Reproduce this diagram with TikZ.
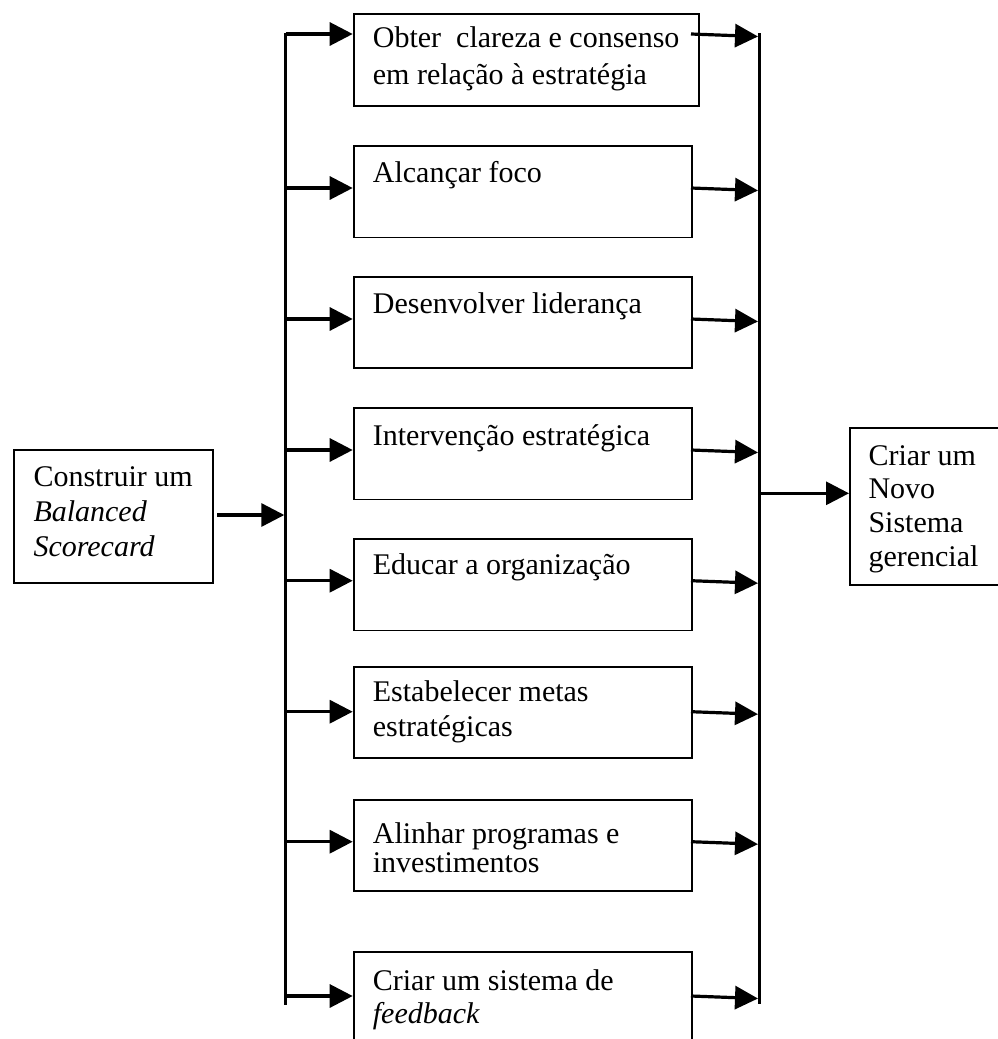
\documentclass[tikz,border=0pt]{standalone}
\usepackage{fontspec}
\setmainfont{Liberation Serif}
\usetikzlibrary{arrows.meta}

\begin{document}
\begin{tikzpicture}[x=1pt,y=-1pt,
  box/.style={draw,line width=1.8pt,rectangle,inner sep=0pt,anchor=north west},
  stepbox/.style={box,minimum width=338.3pt,minimum height=91.5pt},
  lbl/.style={anchor=base west,inner sep=0pt,font=\fontsize{30}{35}\selectfont},
  wire/.style={line width=3.3pt},
  arr/.style={line width=3.2pt,-{Triangle[length=23pt,width=23pt]}}
]
\useasboundingbox (0,0) rectangle (998,1039);
\clip (0,0) rectangle (998,1039);

% start and result boxes
\node[box,minimum width=199pt,minimum height=133pt] (src) at (13.3,449.3) {};
\node[lbl] (src1) at (33.3,486.7) {Construir um};
\node[lbl] (src2) at (33.3,521.7) {\itshape Balanced};
\node[lbl] (src3) at (33.3,556.3) {\itshape Scorecard};

\node[box,minimum width=170pt,minimum height=157pt] (dst) at (849,427.3) {};
\node[lbl] (dst1) at (868.3,465) {Criar um};
\node[lbl] (dst2) at (868.3,498.3) {Novo};
\node[lbl] (dst3) at (868.3,532.7) {Sistema};
\node[lbl] (dst4) at (868.3,566.7) {gerencial};

% the eight steps
\node[box,minimum width=345.6pt,minimum height=92.3pt] (b1) at (352.7,12.7) {};
\node[lbl] (t1a) at (372.7,47.3) {Obter\ \ clareza e consenso};
\node[lbl] (t1b) at (372.7,84) {em relação à estratégia};

\node[stepbox] (b2) at (352.7,145) {};
\node[lbl] (t2) at (372.7,182.7) {Alcançar foco};

\node[stepbox] (b3) at (352.7,275.7) {};
\node[lbl] (t3) at (372.7,313.3) {Desenvolver liderança};

\node[stepbox] (b4) at (352.7,407) {};
\node[lbl] (t4) at (372.7,445) {Intervenção estratégica};

\node[stepbox] (b5) at (352.7,538) {};
\node[lbl] (t5) at (372.7,574) {Educar a organização};

\node[stepbox] (b6) at (352.7,665.7) {};
\node[lbl] (t6a) at (372.7,701.7) {Estabelecer metas};
\node[lbl] (t6b) at (372.7,736.7) {estratégicas};

\node[stepbox,minimum height=90.7pt] (b7) at (352.7,799.3) {};
\node[lbl] (t7a) at (372.7,843) {Alinhar programas e};
\node[lbl] (t7b) at (372.7,872) {investimentos};

\node[stepbox,minimum height=120pt] (b8) at (352.7,950.7) {};
\node[lbl] (t8a) at (372.7,990.5) {Criar um sistema de};
\node[lbl] (t8b) at (372.7,1023) {\itshape feedback};

% distribution and collection buses
\coordinate (Ltop) at (285.7,33);
\coordinate (Lbot) at (285.7,1005);
\coordinate (Rtop) at (759.5,33);
\coordinate (Rbot) at (759.5,1004);
\draw[wire] (Ltop) -- (Lbot);
\draw[wire] (Rtop) -- (Rbot);

% input and output
\coordinate (inS) at (217.3,515);
\coordinate (inE) at (284.3,515);
\draw[arr] (inS) -- (inE);
\coordinate (outS) at (759.5,493.3);
\draw[arr] (outS) -- (dst.west |- outS);

% step connectors: bus -> box -> bus
\foreach \b/\y in {b1/34,b2/188,b3/319,b4/450,b5/580.7,b6/711.7,b7/841.7,b8/996}{
  \coordinate (\b in) at (352.7,\y);
  \coordinate (\b out) at (691,\y);
  \coordinate (\b end) at (758,\y+2.5);
  \draw[arr] (Ltop |- \b in) -- (\b in);
  \draw[arr] (\b out) -- (\b end);
}
\end{tikzpicture}
\end{document}
